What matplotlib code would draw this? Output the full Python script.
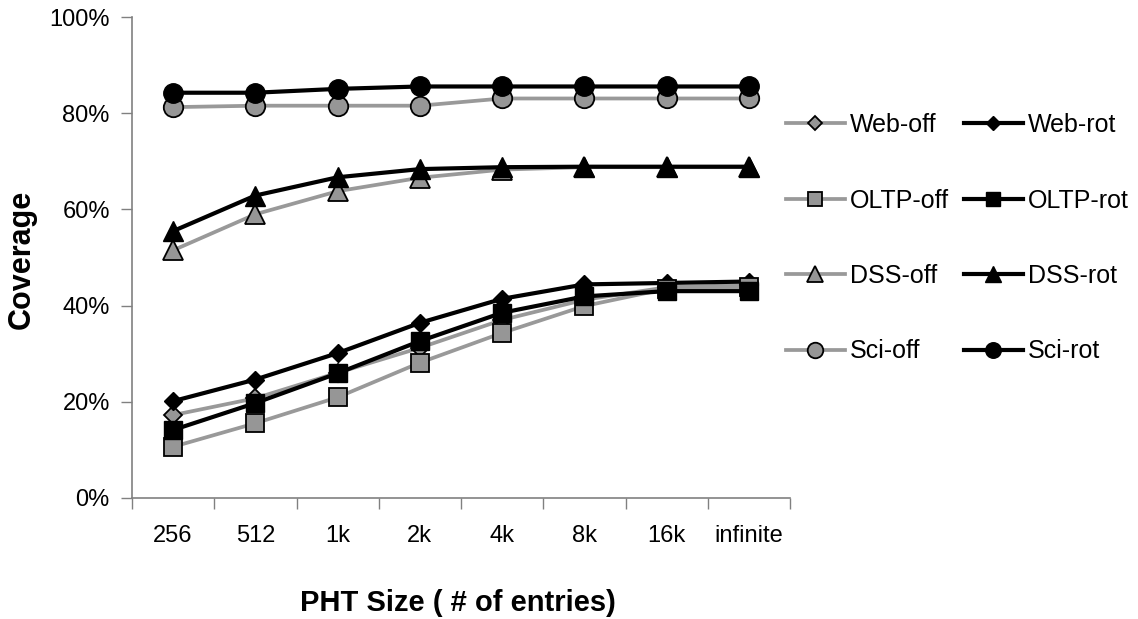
import matplotlib
matplotlib.use("Agg")
import matplotlib.pyplot as plt
from matplotlib.ticker import FuncFormatter

plt.rcParams["font.family"] = ["Liberation Sans", "DejaVu Sans"]

sizes = ["256", "512", "1k", "2k", "4k", "8k", "16k", "infinite"]

web_off = [17.2, 20.7, 26.0, 31.2, 37.0, 41.2, 43.8, 44.3]
web_rot = [20.1, 24.6, 30.1, 36.4, 41.4, 44.4, 44.7, 45.0]
oltp_off = [10.6, 15.5, 20.9, 28.1, 34.3, 39.9, 43.5, 43.8]
oltp_rot = [14.1, 19.7, 25.9, 32.6, 38.5, 41.9, 43.0, 43.0]
dss_off = [51.5, 59.0, 63.8, 66.6, 68.3, 68.8, 68.8, 68.8]
dss_rot = [55.5, 62.9, 66.7, 68.4, 68.8, 68.9, 68.9, 68.9]
sci_off = [81.3, 81.6, 81.6, 81.6, 83.1, 83.1, 83.1, 83.1]
sci_rot = [84.3, 84.3, 85.1, 85.6, 85.6, 85.6, 85.6, 85.6]

GRAY = "#999999"
FILL = "#969696"
AXIS = "#808080"

series = [
    ("Web-off", web_off, "D", 9.5, "off"),
    ("Web-rot", web_rot, "D", 9.5, "rot"),
    ("OLTP-off", oltp_off, "s", 13, "off"),
    ("OLTP-rot", oltp_rot, "s", 13, "rot"),
    ("DSS-off", dss_off, "^", 14, "off"),
    ("DSS-rot", dss_rot, "^", 14, "rot"),
    ("Sci-off", sci_off, "o", 14, "off"),
    ("Sci-rot", sci_rot, "o", 14, "rot"),
]

fig = plt.figure(figsize=(11.38, 6.19), dpi=100)
ax = fig.add_axes([132 / 1138, 1 - 497.7 / 619, (790 - 132) / 1138, (497.7 - 17.3) / 619])

xs = range(len(sizes))
handles = {}
for i, (name, vals, mk, ms, kind) in enumerate(series):
    if kind == "off":
        ln, = ax.plot(xs, vals, color=GRAY, lw=2.7, marker=mk, ms=ms,
                      mfc=FILL, mec="black", mew=1.3, label=name, zorder=3 + i,
                      clip_on=False)
    else:
        ln, = ax.plot(xs, vals, color="black", lw=3.0, marker=mk, ms=ms,
                      mfc="black", mec="black", mew=1.0, label=name, zorder=3 + i,
                      clip_on=False)
    handles[name] = ln

ax.set_xlim(-0.5, len(sizes) - 0.5)
ax.set_ylim(0, 100)
ax.set_yticks(range(0, 101, 20))
ax.yaxis.set_major_formatter(FuncFormatter(lambda v, _: f"{v:.0f}%"))
ax.set_xticks(list(xs))
ax.set_xticklabels(sizes)
# category dividers below the axis, as in a spreadsheet chart
ax.set_xticks([i - 0.5 for i in range(len(sizes) + 1)], minor=True)
ax.tick_params(axis="x", which="major", length=0, pad=19.5, labelsize=17)
ax.tick_params(axis="x", which="minor", length=8, width=1, color=AXIS)
ax.tick_params(axis="y", length=8, width=1, color=AXIS, pad=8, labelsize=17)

for s in ("top", "right"):
    ax.spines[s].set_visible(False)
for s in ("left", "bottom"):
    ax.spines[s].set_color(AXIS)
    ax.spines[s].set_linewidth(1.2)

fig.text(22 / 1138, 1 - 259 / 619, "Coverage", rotation=90, ha="center", va="center",
         fontsize=22, fontweight="bold")
fig.text(458 / 1138, 1 - 603 / 619, "PHT Size ( # of entries)", ha="center", va="center",
         fontsize=21, fontweight="bold")

order = ["Web-off", "OLTP-off", "DSS-off", "Sci-off", "Web-rot", "OLTP-rot", "DSS-rot", "Sci-rot"]
fig.legend([handles[n] for n in order], order, ncol=2, frameon=False,
           loc="upper left", bbox_to_anchor=(786 / 1138, 1 - 113 / 619),
           fontsize=18, handlelength=2.35, handletextpad=0.2, columnspacing=0.6,
           labelspacing=2.06, markerscale=0.8, borderpad=0, borderaxespad=0)

fig.savefig("out.png", dpi=100)
